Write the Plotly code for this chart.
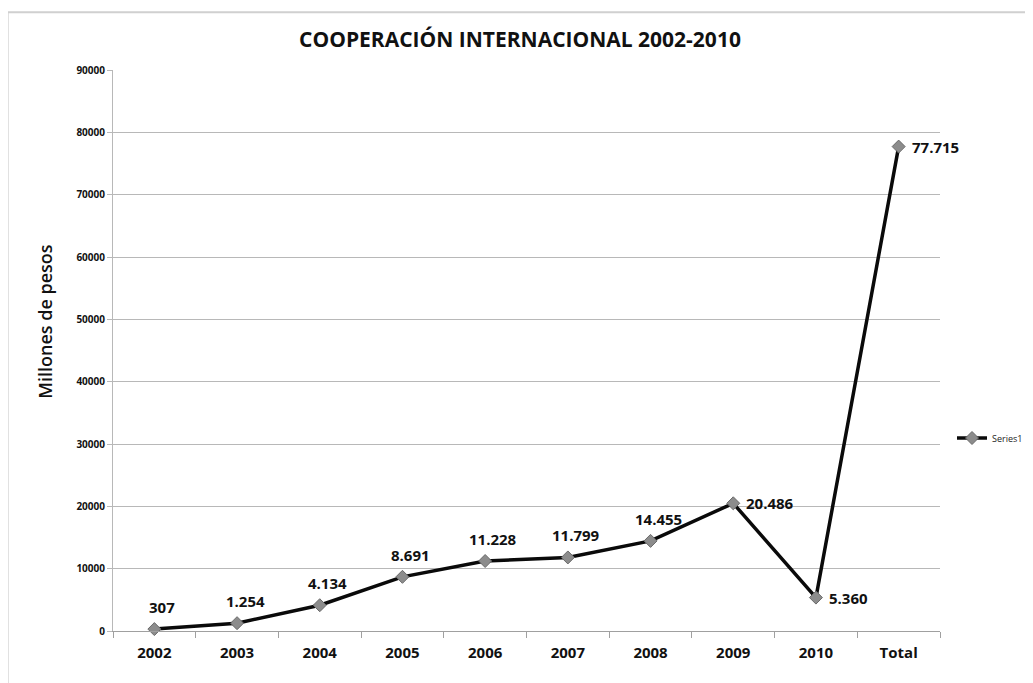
import plotly.graph_objects as go

categories = ["2002", "2003", "2004", "2005", "2006", "2007", "2008", "2009", "2010", "Total"]
values = [307, 1254, 4134, 8691, 11228, 11799, 14455, 20486, 5360, 77715]
labels = ["307", "1.254", "4.134", "8.691", "11.228", "11.799", "14.455", "20.486", "5.360", "77.715"]
label_side = ["above"] * 7 + ["right"] * 3

FONT = "Open Sans"

fig = go.Figure()
fig.add_trace(go.Scatter(
    x=categories, y=values, mode="lines+markers", name="Series1",
    line=dict(color="#0a0a0a", width=3.5),
    marker=dict(symbol="diamond", size=10, color="#8c8c8c", line=dict(color="#6a6a6a", width=1)),
    cliponaxis=False,
))

annotations = []
for i, (v, t, s) in enumerate(zip(values, labels, label_side)):
    # category axes take the category index as position
    if s == "above":
        annotations.append(dict(x=i, y=v, xref="x", yref="y", text=t, showarrow=False,
                                xanchor="center", yanchor="middle", xshift=8, yshift=22,
                                font=dict(family=FONT, size=15, color="#111111", weight="bold")))
    else:
        annotations.append(dict(x=i, y=v, xref="x", yref="y", text=t, showarrow=False,
                                xanchor="left", yanchor="middle", xshift=11, yshift=0,
                                font=dict(family=FONT, size=15, color="#111111", weight="bold")))

annotations.append(dict(text="Millones de pesos", xref="paper", yref="paper", x=-0.0825, y=0.551,
                        xanchor="center", yanchor="middle", textangle=-90, showarrow=False,
                        font=dict(family=FONT, size=18, color="#111111", weight=600)))

fig.update_layout(
    width=1025, height=675,
    paper_bgcolor="white", plot_bgcolor="white",
    margin=dict(l=105, r=90, t=62, b=52),
    title=dict(text="COOPERACIÓN INTERNACIONAL 2002-2010", x=(520 - 8) / 1025, xanchor="center",
               y=1 - 32 / 675, yanchor="middle",
               font=dict(family=FONT, size=21, color="#111111", weight="bold")),
    showlegend=True,
    legend=dict(xref="container", yref="container", x=(952 - 8) / 1025, y=1 - (438 - 8) / 675,
                xanchor="left", yanchor="middle",
                font=dict(family=FONT, size=9, color="#222222"), bgcolor="rgba(0,0,0,0)"),
    xaxis=dict(type="category", categoryorder="array", categoryarray=categories,
               range=[-0.5, len(categories) - 0.5],
               showgrid=False, showline=True, linecolor="#a0a0a0", linewidth=1,
               ticks="outside", tickson="boundaries", ticklen=6, tickcolor="#a0a0a0",
               tickfont=dict(family=FONT, size=15, color="#111111", weight="bold"),
               ticklabelstandoff=8, zeroline=False),
    yaxis=dict(range=[0, 90000], dtick=10000, showgrid=True, gridcolor="#b8b8b8", gridwidth=1,
               showline=True, linecolor="#b8b8b8", ticks="outside", ticklen=5, tickcolor="#b8b8b8",
               tickformat="d", zeroline=False,
               tickfont=dict(family=FONT, size=10, color="#111111", weight="bold")),
    annotations=annotations,
    shapes=[dict(type="rect", xref="paper", yref="paper",
                 x0=-0.1274, x1=1.3, y0=-0.3, y1=1.103,
                 line=dict(color="#d0d0d0", width=2), fillcolor="rgba(0,0,0,0)", layer="below")],
)

fig.write_html("out.html")
